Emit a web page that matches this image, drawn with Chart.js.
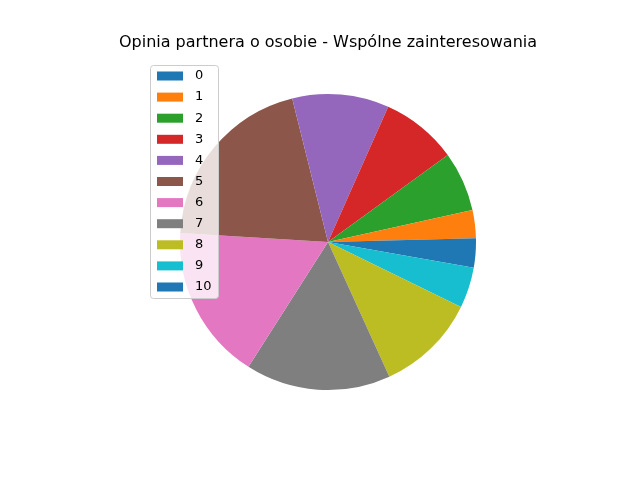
<!DOCTYPE html>
<html>
<head>
<meta charset="utf-8">
<script src="https://cdn.jsdelivr.net/npm/chart.js@4"></script>
<style>body{margin:0;background:#fff}</style>
</head>
<body>
<canvas id="myChart" width="640" height="480"></canvas>
<script>
'use strict';

// data (slice sizes, roughly in degrees)
const labels = ['0', '1', '2', '3', '4', '5', '6', '7', '8', '9', '10'];
const values = [1.5, 11, 23.5, 30, 38, 72.5, 61, 57, 39.5, 16, 10];
const colors = ['#1f77b4', '#ff7f0e', '#2ca02c', '#d62728', '#9467bd', '#8c564b',
  '#e377c2', '#7f7f7f', '#bcbd22', '#17becf', '#1f77b4'];
const title = 'Opinia partnera o osobie - Wspólne zainteresowania';

// matplotlib goes counterclockwise from 3 o'clock, so feed it reversed
const revValues = values.slice().reverse();
const revColors = colors.slice().reverse();
const revLabels = labels.slice().reverse();

// title + legend box drawn like matplotlib
const mplDecor = {
  id: 'mplDecor',
  afterDraw(chart) {
    const ctx = chart.ctx;
    ctx.save();
    ctx.fillStyle = '#000';
    ctx.font = '16px "DejaVu Sans"';
    ctx.textAlign = 'center';
    ctx.textBaseline = 'middle';
    ctx.fillText(title, 328, 43);

    // legend frame
    ctx.fillStyle = 'rgba(255,255,255,0.8)';
    ctx.strokeStyle = '#cccccc';
    ctx.lineWidth = 1;
    ctx.beginPath();
    ctx.roundRect(150.5, 65.5, 68, 233, 3);
    ctx.fill();
    ctx.stroke();

    ctx.font = '13px "DejaVu Sans"';
    ctx.textAlign = 'left';
    for (let i = 0; i < labels.length; i++) {
      let y = 76 + i * 21.1;
      ctx.fillStyle = colors[i];
      ctx.fillRect(157, y - 4.5, 26, 9);
      ctx.fillStyle = '#000';
      ctx.fillText(labels[i], 195, y);
    }
    ctx.restore();
  }
};

const config = {
  type: 'pie',
  data: {
    labels: revLabels,
    datasets: [{
      data: revValues,
      backgroundColor: revColors,
      borderWidth: 0
    }]
  },
  options: {
    responsive: false,
    animation: false,
    rotation: 90,
    layout: {
      padding: { top: 94, bottom: 90, left: 180, right: 164 }
    },
    plugins: {
      legend: { display: false },
      tooltip: { enabled: false }
    }
  },
  plugins: [mplDecor]
};

const myChart = new Chart(document.getElementById('myChart'), config);
</script>
</body>
</html>
